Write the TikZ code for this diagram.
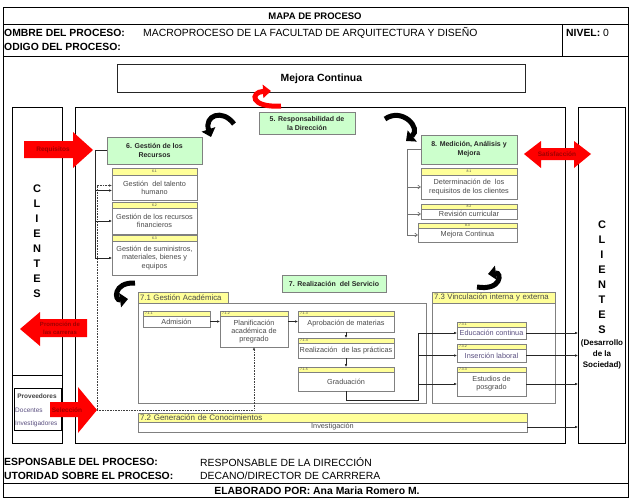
\documentclass[tikz,border=0pt]{standalone}
\usepackage{fontspec}
\setmainfont{Liberation Sans}
\usetikzlibrary{arrows.meta,calc}
\definecolor{hdrY}{HTML}{FFFF99}
\definecolor{grn}{HTML}{CCFFCC}
\definecolor{bgray}{HTML}{808080}
\definecolor{tgray}{HTML}{4A4A4A}
\definecolor{tpurp}{HTML}{5A4F80}
\definecolor{dred}{HTML}{A00000}
\newcommand\fHd{\fontsize{9.5}{11}\selectfont}
\newcommand\fFt{\fontsize{10.4}{12}\selectfont}
\newcommand\fBx{\fontsize{7.3}{8.2}\selectfont}
\newcommand\fTg{\fontsize{3.5}{4}\selectfont}
\newcommand\fGr{\fontsize{7}{9}\selectfont\bfseries}
\newcommand\fSec{\fontsize{7.8}{9}\selectfont}
\newcommand\fCl{\fontsize{11}{15}\selectfont\bfseries}
\newcommand\fRd{\fontsize{6.5}{7}\selectfont\bfseries}
\newcommand\fPv{\fontsize{6.5}{7.5}\selectfont}
\tikzset{
  hb/.style={font=\fFt\bfseries, inner sep=0pt},
  hr/.style={font=\fFt, inner sep=0pt},
  subbox/.style={draw=bgray, line width=0.5pt, fill=white, inner sep=0pt, outer sep=0pt, align=center, text=tgray, font=\fBx, anchor=north west},
  tagc/.style={draw=bgray, line width=0.5pt, fill=hdrY, inner sep=0pt, outer sep=0pt, font=\fTg, text=tgray, anchor=north west},
  tagl/.style={tagc, text width=#1, align=left, inner xsep=2pt},
  secbar/.style={draw=bgray, line width=0.5pt, fill=hdrY, inner sep=0pt, inner xsep=2pt, outer sep=0pt, font=\fSec, text=tgray, anchor=north west, text width=#1, align=left},
  greenbox/.style={draw=bgray, line width=0.6pt, fill=grn, inner sep=0pt, outer sep=0pt, align=center, font=\fGr, text=black!85, anchor=north west},
  cont/.style={draw=bgray, line width=0.6pt, inner sep=0pt, outer sep=0pt, anchor=north west},
  frm/.style={draw=black, line width=0.9pt, inner sep=0pt, outer sep=0pt, anchor=north west},
  conn/.style={draw=black!85, line width=0.5pt},
  arr/.style={conn, -{Latex[length=3pt,width=2.6pt]}},
  gline/.style={draw=black!55, line width=0.7pt},
  garr/.style={gline, -{Straight Barb[length=2.5pt,width=3.5pt]}},
  dotarr/.style={draw=black!75, line width=0.6pt, densely dotted, -{Latex[length=3pt,width=2.6pt]}},
  curv/.style={line width=5pt, -{Triangle[length=8pt,width=14pt]}},
  redtxt/.style={font=\fRd, text=dred, align=center, inner sep=0pt},
}
\begin{document}
\begin{tikzpicture}[x=1pt,y=-1pt]
\useasboundingbox (0,0) rectangle (631,500);
% outer frame and header/footer rules
\draw[line width=1pt] (3,8) rectangle (628,497);
\draw[line width=0.8pt] (3,24) -- (628,24);
\draw[line width=0.8pt] (3,56) -- (628,56);
\draw[line width=0.8pt] (562,24) -- (562,56);
\draw[line width=0.8pt] (3,483) -- (628,483);
% header texts
\node[hb, font=\fHd\bfseries] (title) at (315,16) {MAPA DE PROCESO};
\node[hb, anchor=west] (nomL) at (4,33) {OMBRE DEL PROCESO:};
\node[hr, anchor=west] (nomV) at (143,33) {MACROPROCESO DE LA FACULTAD DE ARQUITECTURA Y DISEÑO};
\node[hr, anchor=west] (nivel) at (566,33) {\textbf{NIVEL:} 0};
\node[hb, anchor=west] (codL) at (4,47) {ODIGO DEL PROCESO:};
% footer texts
\node[hb, anchor=west] (respL) at (4,462) {ESPONSABLE DEL PROCESO:};
\node[hr, anchor=west] (respV) at (200,462) {RESPONSABLE DE LA DIRECCIÓN};
\node[hb, anchor=west] (autL) at (4,476) {UTORIDAD SOBRE EL PROCESO:};
\node[hr, anchor=west] (autV) at (200,476) {DECANO/DIRECTOR DE CARRRERA};
\node[hb] (elab) at (317,491) {ELABORADO POR: Ana Maria Romero M.};
% Mejora continua
\node[draw=black!85, line width=0.8pt, anchor=north west, minimum width=408pt, minimum height=28pt, inner sep=0pt, font=\fFt\bfseries] (mej) at (117,64) {Mejora Continua};
% big frames
\node[frm, minimum width=50pt, minimum height=336pt] (lc) at (12,107) {};
\draw[line width=0.9pt] (12,375) -- (62,375);
\node[frm, minimum width=490pt, minimum height=336pt] (mf) at (75,107) {};
\node[frm, minimum width=47pt, minimum height=336pt] (rc) at (578,107) {};
\node[font=\fCl, align=center, inner sep=0pt] (cliL) at (37,241) {C\\L\\I\\E\\N\\T\\E\\S};
\node[font=\fCl, align=center, inner sep=0pt] (cliR) at (602,277) {C\\L\\I\\E\\N\\T\\E\\S};
\node[font=\fontsize{8}{11}\selectfont\bfseries, align=center, inner sep=0pt] (soc) at (602,354) {(Desarrollo\\de la\\Sociedad)};
% proveedores
\node[frm, line width=0.8pt, minimum width=47pt, minimum height=42pt] (prov) at (14,388) {};
\node[font=\fPv\bfseries, text=black!75, inner sep=0pt] (provT) at (37,396) {Proveedores};
\node[font=\fPv, text=tpurp, inner sep=0pt, anchor=west] (doc) at (15,410) {Docentes};
\node[font=\fPv, text=tpurp, inner sep=0pt, anchor=west] (inv) at (15,424) {Investigadores};
% green boxes
\node[greenbox, minimum width=96pt, minimum height=22pt] (g5) at (259,112) {5. Responsabilidad de\\la Dirección};
\node[greenbox, minimum width=95pt, minimum height=27pt] (g6) at (107,137) {6. Gestión de los\\Recursos};
\node[greenbox, minimum width=96pt, minimum height=29pt] (g8) at (421,135) {8. Medición, Análisis y\\Mejora};
\node[greenbox, minimum width=104pt, minimum height=17pt] (g7) at (282,275) {7. Realización\ \ del Servicio};
% 6.x
\node[tagc, minimum width=85pt, minimum height=7pt] (h61) at (112,168) {6.1};
\node[subbox, minimum width=85pt, minimum height=25pt] (b61) at (112,175) {Gestión\ \ del talento\\humano};
\node[tagc, minimum width=85pt, minimum height=6pt] (h62) at (112,202) {6.2};
\node[subbox, minimum width=85pt, minimum height=26pt] (b62) at (112,208) {Gestión de los recursos\\financieros};
\node[tagc, minimum width=85pt, minimum height=6pt] (h63) at (112,235) {6.3};
\node[subbox, minimum width=85pt, minimum height=34pt] (b63) at (112,241) {Gestión de suministros,\\materiales, bienes y\\equipos};
% 8.x
\node[tagc, minimum width=96pt, minimum height=7pt] (h81) at (421,168) {8.1};
\node[subbox, minimum width=96pt, minimum height=24pt] (b81) at (421,175) {Determinación de\ \ los\\requisitos de los clientes};
\node[tagc, minimum width=96pt, minimum height=5pt] (h82) at (421,204) {8.2};
\node[subbox, minimum width=96pt, minimum height=10pt] (b82) at (421,209) {Revisión curricular};
\node[tagc, minimum width=99pt, minimum height=5pt] (h83) at (418,223) {8.3};
\node[subbox, minimum width=99pt, minimum height=14pt] (b83) at (418,228) {Mejora Continua};
% 7.1 container
\node[cont, minimum width=288pt, minimum height=100pt] (c71) at (138,303) {};
\node[secbar=86pt, minimum height=11pt] (h71) at (138,292) {7.1 Gestión Académica};
\node[tagl=63pt, minimum height=5pt] (h711) at (143,311) {7.1.1};
\node[subbox, minimum width=67pt, minimum height=11pt] (b711) at (143,316) {Admisión};
\node[tagl=64pt, minimum height=5pt] (h712) at (220,311) {7.1.2};
\node[subbox, minimum width=68pt, minimum height=31pt] (b712) at (220,316) {Planificación\\académica de\\pregrado};
\node[tagl=92pt, minimum height=5pt] (h713) at (298,311) {7.1.3};
\node[subbox, minimum width=96pt, minimum height=16pt] (b713) at (298,316) {Aprobación de materias};
\node[tagl=92pt, minimum height=5pt] (h714) at (298,338) {7.1.4};
\node[subbox, minimum width=96pt, minimum height=15pt] (b714) at (298,343) {Realización\ \ de las prácticas};
\node[tagl=92pt, minimum height=5pt] (h715) at (298,367) {7.1.5};
\node[subbox, minimum width=96pt, minimum height=19pt] (b715) at (298,372) {Graduación};
% 7.3 container
\node[cont, minimum width=123pt, minimum height=100pt] (c73) at (432,303) {};
\node[secbar=119pt, minimum height=11pt] (h73) at (432,292) {7.3 Vinculación interna y externa};
\node[tagl=65pt, minimum height=5pt] (h731) at (457,322) {7.3.1};
\node[subbox, text=tpurp, minimum width=69pt, minimum height=12pt] (b731) at (457,327) {Educación continua};
\node[tagl=65pt, minimum height=5pt] (h732) at (457,344) {7.3.2};
\node[subbox, text=tpurp, minimum width=69pt, minimum height=13pt] (b732) at (457,349) {Inserción laboral};
\node[tagl=65pt, minimum height=5pt] (h733) at (457,367) {7.3.3};
\node[subbox, minimum width=69pt, minimum height=24pt] (b733) at (457,372) {Estudios de\\posgrado};
% 7.2
\node[secbar=385pt, minimum height=9pt, font=\fontsize{8}{9}\selectfont] (h72) at (138,413) {7.2 Generación de Conocimientos};
\node[subbox, minimum width=389pt, minimum height=10pt] (b72) at (138,422) {Investigación};
% red block arrows
\fill[red] (24,141) -- (73,141) -- (73,132) -- (93,150) -- (73,168) -- (73,158) -- (24,158) -- cycle;
\node[redtxt] (req) at (53,150) {Requisitos};
\fill[red] (524,154) -- (541,141) -- (541,148) -- (574,148) -- (574,141) -- (591,154) -- (574,168) -- (574,160) -- (541,160) -- (541,168) -- cycle;
\node[redtxt] (sat) at (557,154) {Satisfacción};
\fill[red] (20,329) -- (40,312) -- (40,319) -- (87,319) -- (87,337) -- (40,337) -- (40,346) -- cycle;
\node[redtxt, font=\fontsize{6}{8}\selectfont\bfseries] (prom) at (60,328) {Promoción de\\las carreras};
\fill[red] (50,402) -- (78,402) -- (78,387) -- (97,410) -- (78,433) -- (78,417) -- (50,417) -- cycle;
\node[redtxt] (selT) at (67,410) {Selección};
\coordinate (seltip) at (97,410);
% curved arrows
\draw[red, line width=5pt, -{Triangle[length=8pt,width=13pt]}] (281,106) .. controls (250,108) and (250,92) .. (271,91);
\draw[black, curv] (234,124) .. controls (222,108) and (204,116) .. (211,137);
\draw[black, curv] (385,119) .. controls (402,107) and (422,128) .. (406,141);
\draw[black, curv] (135,283) .. controls (113,282) and (114,301) .. (128,299);
\draw[black, curv] (477,287) .. controls (502,291) and (502,272) .. (488,274);
% connectors group 6
\coordinate (v6) at (95,0);
\draw[conn] (g6.west) -- (g6.west -| v6) -- (v6 |- b63.west);
\draw[arr] ([yshift=-3pt]b61.west -| v6) -- ([yshift=-3pt]b61.west);
\draw[arr] (b62.west -| v6) -- (b62.west);
\draw[arr] (b63.west -| v6) -- (b63.west);
\draw[dotarr] (seltip) |- ([yshift=2pt]b61.west);
\draw[dotarr] (seltip) -- (seltip -| b712.south) -- (b712.south);
% connectors group 8
\coordinate (v8) at (407,0);
\draw[gline] (g8.west) -- (g8.west -| v8) -- (v8 |- b83.west);
\draw[garr] (v8 |- b81.west) -- (b81.west);
\draw[garr] (v8 |- b82.west) -- (b82.west);
\draw[garr] (v8 |- b83.west) -- (b83.west);
% connectors 7.1
\draw[arr] (b711.east) -- (b711.east -| b712.west);
\draw[arr] (b712.east |- b711.east) -- (b713.west |- b711.east);
\draw[arr] (b713.south) -- (h714.north);
\draw[arr] (b714.south) -- (h715.north);
\coordinate (jv) at (418,400);
\draw[conn, line width=0.9pt] (b715.south) |- (jv) -- (jv |- b731.west);
\draw[arr] (jv |- b731.west) -- (b731.west);
\draw[arr] (jv |- b732.west) -- (b732.west);
\draw[arr] (jv |- b733.west) -- (b733.west);
% outputs to clients
\draw[arr] (b731.east) -- (b731.east -| rc.west);
\draw[arr] (b732.east) -- (b732.east -| rc.west);
\draw[arr] (b733.east) -- (b733.east -| rc.west);
\draw[arr] (b72.east) -- (b72.east -| rc.west);
\end{tikzpicture}
\end{document}
